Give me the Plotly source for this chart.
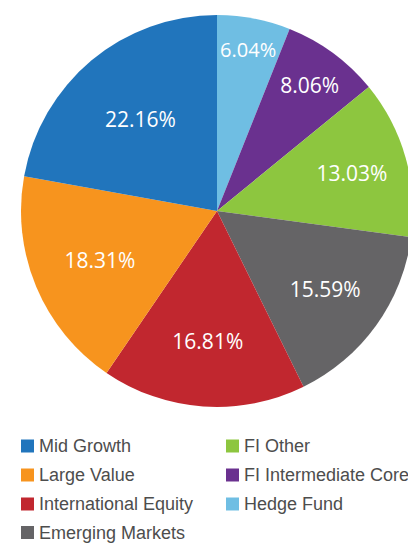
import plotly.graph_objects as go

labels = ["Hedge Fund", "FI Intermediate Core", "FI Other", "Emerging Markets",
          "International Equity", "Large Value", "Mid Growth"]
values = [6.04, 8.06, 13.03, 15.59, 16.81, 18.31, 22.16]
colors = ["#6FBEE3", "#6A318F", "#8DC63F", "#656466", "#C1272F", "#F7941E", "#2175BC"]

legend_left = ["Mid Growth", "Large Value", "International Equity", "Emerging Markets"]
legend_right = ["FI Other", "FI Intermediate Core", "Hedge Fund"]

# figure slightly wider than the 408px window: the pie is cropped on the right as in the reference
W, H = 424, 544
cx, cy, r = 217, 211, 196

fig = go.Figure()
fig.add_trace(go.Pie(
    labels=labels, values=values, sort=False, direction="clockwise", rotation=0,
    marker=dict(colors=colors, line=dict(width=0)),
    texttemplate="%{value:.2f}%", textposition="inside",
    insidetextorientation="horizontal",
    textfont=dict(family="Open Sans", size=21, color="white"),
    hoverinfo="label+percent", showlegend=False,
    domain=dict(x=[(cx - r) / W, (cx + r) / W],
                y=[1 - (cy + r + 8) / H, 1 - (cy - r - 8) / H]),
))

color_of = dict(zip(labels, colors))
shapes, annotations = [], []
row_y = [446, 475, 504, 532.5]
for col_x, names in ((21, legend_left), (226, legend_right)):
    for i, name in enumerate(names):
        yc = row_y[i]
        shapes.append(dict(type="rect", xref="paper", yref="paper",
                           x0=col_x / W, x1=(col_x + 13) / W,
                           y0=1 - (yc + 6.5) / H, y1=1 - (yc - 6.5) / H,
                           fillcolor=color_of[name], line=dict(width=0)))
        annotations.append(dict(text=name, xref="paper", yref="paper",
                                x=(col_x + 16) / W, y=1 - yc / H,
                                xanchor="left", yanchor="middle", showarrow=False,
                                font=dict(family="Liberation Sans", size=18, color="#4D4D4D")))

fig.update_layout(width=W, height=H, margin=dict(l=0, r=0, t=0, b=0),
                  paper_bgcolor="white", shapes=shapes, annotations=annotations)
fig.write_html("out.html", config={"displayModeBar": False},
               post_script="document.body.style.margin='0';document.body.style.overflow='hidden';")
